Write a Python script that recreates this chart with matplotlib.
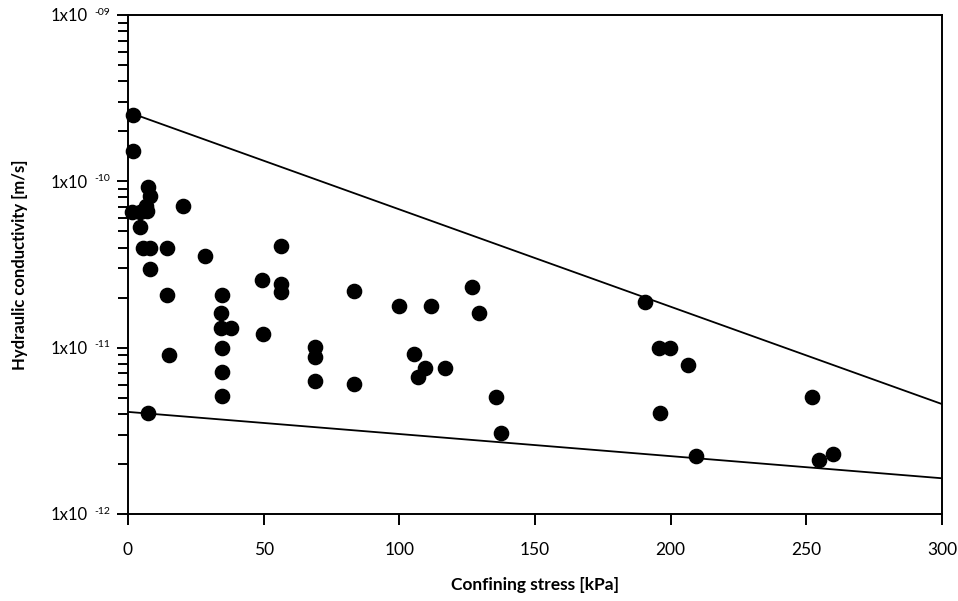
import matplotlib
matplotlib.use("Agg")
import matplotlib.pyplot as plt
from matplotlib.ticker import FixedLocator, LogLocator, NullFormatter

plt.rcParams['font.family'] = ['Lato', 'DejaVu Sans']

# Data: confining stress [kPa] and hydraulic conductivity [m/s]
stress = [1.8, 1.8, 7.4, 8.1, 6.6, 1.4, 4.4, 6.9, 4.4, 5.7, 8.1, 8.1, 14.5,
          20.4, 28.4, 14.5, 34.5, 56.3, 49.5, 56.3, 56.3,
          34.4, 34.4, 37.9, 34.6, 34.6, 34.6, 49.8, 68.9, 68.9, 68.9,
          83.4, 83.4, 100.0, 111.8, 126.7, 129.4, 105.4, 109.5, 107.0,
          116.8, 135.6, 137.4, 7.5, 15.1,
          190.6, 195.8, 199.8, 206.3, 196.1, 209.5, 252.0, 254.7, 260.0]
conductivity = [2.5e-10, 1.52e-10, 9.2e-11, 8.2e-11, 7.1e-11, 6.5e-11, 6.5e-11, 6.6e-11, 5.3e-11,
                4.0e-11, 4.0e-11, 2.98e-11, 4.0e-11,
                7.15e-11, 3.58e-11, 2.06e-11, 2.06e-11, 4.1e-11, 2.54e-11, 2.42e-11, 2.15e-11,
                1.61e-11, 1.31e-11, 1.31e-11, 9.95e-12, 7.1e-12, 5.12e-12, 1.21e-11, 1.01e-11, 8.8e-12, 6.27e-12,
                2.2e-11, 6.04e-12, 1.79e-11, 1.79e-11, 2.33e-11, 1.62e-11, 9.2e-12, 7.5e-12, 6.62e-12,
                7.5e-12, 5.07e-12, 3.06e-12, 4.07e-12, 9.08e-12,
                1.89e-11, 9.9e-12, 9.9e-12, 7.9e-12, 4.02e-12, 2.23e-12, 5.07e-12, 2.12e-12, 2.29e-12]

# Envelope lines (endpoints)
upper_x = [0, 300]
upper_y = [2.61e-10, 4.58e-12]
lower_x = [0, 300]
lower_y = [4.11e-12, 1.64e-12]

x_ticks = [0, 50, 100, 150, 200, 250, 300]
y_ticks = [1e-12, 1e-11, 1e-10, 1e-9]
y_base = '1x10'
y_exponents = ['-12', '-11', '-10', '-09']

fig = plt.figure(figsize=(9.58, 6.01), dpi=100)
ax = fig.add_axes([128/958, 1-514/601, (942-128)/958, (514-15)/601])

ax.plot(upper_x, upper_y, color='black', lw=1.3)
ax.plot(lower_x, lower_y, color='black', lw=1.3)
ax.scatter(stress, conductivity, s=105, color='black', zorder=3, clip_on=False)

ax.set_yscale('log')
ax.set_xlim(0, 300)
ax.set_ylim(1e-12, 1e-9)

ax.xaxis.set_major_locator(FixedLocator(x_ticks))
ax.set_xticklabels([str(v) for v in x_ticks])
ax.yaxis.set_major_locator(FixedLocator(y_ticks))
ax.set_yticklabels([y_base] * len(y_ticks))
ax.yaxis.set_minor_locator(LogLocator(base=10, subs=range(2, 10)))
ax.yaxis.set_minor_formatter(NullFormatter())

# exponent superscripts next to the tick labels
for val, ex in zip(y_ticks, y_exponents):
    ax.annotate(ex, xy=(0, val), xycoords=('axes fraction', 'data'),
                xytext=(-24, 2), textcoords='offset points',
                ha='left', va='center', fontsize=7.5, color='black',
                annotation_clip=False)

ax.tick_params(axis='both', which='major', direction='out', length=8, width=1.4,
               labelsize=12.5, colors='black')
ax.tick_params(axis='y', which='major', labelsize=12)
ax.tick_params(axis='y', which='minor', direction='out', length=7, width=1.4)
ax.tick_params(axis='x', which='major', pad=12)
ax.tick_params(axis='y', which='major', pad=21)
for sp in ax.spines.values():
    sp.set_linewidth(1.4)

ax.set_xlabel('Confining stress [kPa]', fontsize=12.5, fontweight='bold')
ax.xaxis.set_label_coords(0.5, (514 - 577) / 499)
ax.set_ylabel('Hydraulic conductivity [m/s]', fontsize=12, fontweight='bold')
ax.yaxis.set_label_coords((28 - 128) / 814, 0.5)

fig.savefig('out.png', dpi=100, facecolor='white')
